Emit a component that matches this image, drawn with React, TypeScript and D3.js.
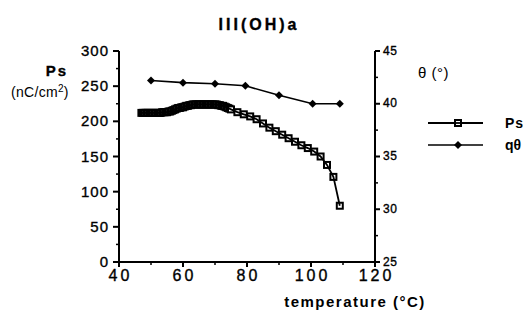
import React from "react";
import * as d3 from "d3";

const psTemps = [
  47,47.5,48,48.5,49,49.5,50,50.5,51,51.5,52,52.5,53,53.5,54,54.5,55,55.5,56,56.5,
  57,57.5,58,58.5,59,59.5,60,60.5,61,61.5,62,62.5,63,63.5,64,64.5,65,65.5,66,66.5,
  67,67.5,68,68.5,69,69.5,70,70.5,71,71.5,72,72.5,73,73.5,74,74.5,75,
  77,79,81,83,85,87,89,91,93,95,97,99,101,103,105,107,109];
const psValues = [
  212,212,212,212,212,212,212,212,212,212,212,212,212,213,213,213,213,214,214,215,
  216,217,218,219,219,220,220,221,222,222,223,223,224,224,224,224,224,224,224,224,
  224,224,224,224,224,224,224,224,223,223,222,222,221,220,219,218,217,
  213,210,207,203,197,191,186,181,176,171,166,162,157,150,138,121,80];
const thetaTemps = [50,60,70,79.5,90,100.5,109];
const thetaValues = [42.2,42.0,41.9,41.7,40.8,40.0,40.0];
const xTicks = [40,60,80,100,120];
const xMinor = [50,70,90,110];
const yLTicks = [0,50,100,150,200,250,300];
const yLMinor = [25,75,125,175,225,275];
const yRTicks = [25,30,35,40,45];
const yRMinor = [27.5,32.5,37.5,42.5];

const W = 523, H = 312;
const font = "'Liberation Sans', Arial, Helvetica, sans-serif";

export default function App() {
  const x = d3.scaleLinear().domain([40, 120]).range([119, 375]);
  const yL = d3.scaleLinear().domain([0, 300]).range([262, 51]);
  const yR = d3.scaleLinear().domain([25, 45]).range([262, 51]);

  const psLine = d3.line<number>().x((_, i) => x(psTemps[i])).y((v) => yL(v))(psValues) || "";
  const thLine = d3.line<number>().x((_, i) => x(thetaTemps[i])).y((v) => yR(v))(thetaValues) || "";
  const diamond = (cx: number, cy: number, s = 4) => `M${cx},${cy - s}L${cx + s},${cy}L${cx},${cy + s}L${cx - s},${cy}Z`;

  const x0 = x(40), x1 = x(120), yb = yL(0), yt = yL(300);
  const heavy = { stroke: "#000", strokeWidth: 0.35 };

  return (
    <svg width={W} height={H} style={{ position: "absolute", left: 0, top: 0, background: "#fff" }} fontFamily={font}>
      <rect width={W} height={H} fill="#fff" />
      <text x={259} y={30} fontSize={16} fontWeight="bold" textAnchor="middle" letterSpacing={3} {...heavy}>III(OH)a</text>

      {/* left axis */}
      <line x1={x0} x2={x0} y1={yt} y2={yb} stroke="#000" strokeWidth={2} />
      {yLTicks.map((t) => (
        <g key={"l" + t}>
          <line x1={x0 - 6} x2={x0} y1={yL(t)} y2={yL(t)} stroke="#000" strokeWidth={2} />
          <text x={109} y={yL(t) + 5} fontSize={15} textAnchor="end" letterSpacing={1} {...heavy}>{t}</text>
        </g>
      ))}
      {yLMinor.map((t) => (
        <line key={"lm" + t} x1={x0 - 3} x2={x0} y1={yL(t)} y2={yL(t)} stroke="#000" strokeWidth={1.5} />
      ))}
      <text x={57} y={76} fontSize={15} fontWeight="bold" textAnchor="middle" letterSpacing={2} {...heavy}>Ps</text>
      <text x={11} y={97} fontSize={14} letterSpacing={0.3}>(nC/cm<tspan dy={-5} fontSize={10}>2</tspan><tspan dy={5}>)</tspan></text>

      {/* bottom axis */}
      <line x1={x0 - 1} x2={x1} y1={yb} y2={yb} stroke="#000" strokeWidth={2} />
      {xTicks.map((t) => (
        <g key={"x" + t}>
          <line x1={x(t)} x2={x(t)} y1={yb} y2={yb + 5} stroke="#000" strokeWidth={2} />
          <text x={x(t) + 1.5} y={281} fontSize={16} textAnchor="middle" letterSpacing={3} {...heavy}>{t}</text>
        </g>
      ))}
      {xMinor.map((t) => (
        <line key={"xm" + t} x1={x(t)} x2={x(t)} y1={yb} y2={yb + 3} stroke="#000" strokeWidth={1.5} />
      ))}
      <text x={355} y={307} fontSize={15} fontWeight="bold" textAnchor="middle" letterSpacing={1.5}>temperature  (°C)</text>

      {/* right axis */}
      <line x1={x1} x2={x1} y1={yt} y2={yb} stroke="#000" strokeWidth={2} />
      {yRTicks.map((t) => (
        <g key={"r" + t}>
          <line x1={x1} x2={x1 + 5} y1={yR(t)} y2={yR(t)} stroke="#000" strokeWidth={2} />
          <text x={383} y={yR(t) + 3.5} fontSize={12} letterSpacing={0.5} {...heavy}>{t}</text>
        </g>
      ))}
      {yRMinor.map((t) => (
        <line key={"rm" + t} x1={x1} x2={x1 + 3} y1={yR(t)} y2={yR(t)} stroke="#000" strokeWidth={1.5} />
      ))}
      <text x={418} y={78} fontSize={15} letterSpacing={0.5}>θ  (°)</text>

      {/* theta series */}
      <path d={thLine} fill="none" stroke="#000" strokeWidth={1.6} />
      {thetaValues.map((v, i) => (
        <path key={"d" + i} d={diamond(x(thetaTemps[i]), yR(v))} fill="#000" />
      ))}

      {/* Ps series */}
      {psValues.map((v, i) => (
        <rect key={"s" + i} x={x(psTemps[i]) - 3} y={yL(v) - 3} width={6} height={6} fill="#fff" stroke="#000" strokeWidth={2} />
      ))}
      <path d={psLine} fill="none" stroke="#000" strokeWidth={1.8} />

      {/* legend */}
      <line x1={428} x2={483} y1={123} y2={123} stroke="#000" strokeWidth={1.8} />
      <rect x={455} y={120} width={6} height={6} fill="#fff" stroke="#000" strokeWidth={2} />
      <line x1={455} x2={461} y1={123} y2={123} stroke="#000" strokeWidth={1.8} />
      <text x={505} y={128} fontSize={14} fontWeight="bold" letterSpacing={1}>Ps</text>
      <line x1={428} x2={483} y1={145} y2={145} stroke="#000" strokeWidth={1.6} />
      <path d={diamond(458, 145)} fill="#000" />
      <text x={505} y={150} fontSize={14} fontWeight="bold">qθ</text>
    </svg>
  );
}
